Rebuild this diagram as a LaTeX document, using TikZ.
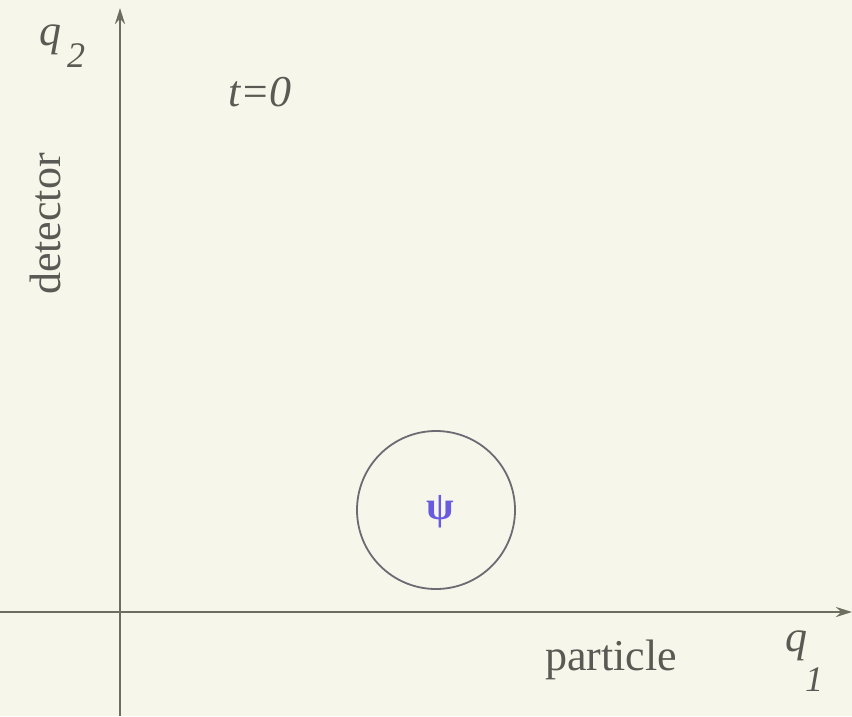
\documentclass[tikz,border=0pt]{standalone}
\usepackage{fontspec}
\setmainfont{Liberation Serif}
\usetikzlibrary{arrows.meta}
\definecolor{bg}{HTML}{F6F6EA}
\definecolor{axis}{HTML}{6E6E60}
\definecolor{psi}{HTML}{6A5ADF}
\definecolor{ring}{HTML}{6C6A72}
\definecolor{txt}{HTML}{5A5A55}
\begin{document}
\begin{tikzpicture}[x=1pt,y=-1pt,
  axisline/.style={draw=axis,line width=2.5pt,-{Stealth[length=16pt,width=10pt]}},
  lbl/.style={text=txt,inner sep=0pt,font=\fontsize{44}{48}\selectfont},
  ilbl/.style={lbl,font=\fontsize{44}{48}\selectfont\itshape}]
\fill[bg] (0,0) rectangle (852,716);
\useasboundingbox (0,0) rectangle (852,716);
\coordinate (ybot) at (120,716);
\coordinate (ytop) at (120,8);
\coordinate (xl) at (0,612);
\coordinate (xr) at (852,612);
\draw[axisline] (ybot) -- (ytop);
\draw[axisline] (xl) -- (xr);
\node[ilbl] (q2) at (50,40) {q};
\node[ilbl,font=\fontsize{36}{40}\selectfont\itshape] (q2s) at (76,56) {2};
\node[ilbl] (t0) at (260,92) {t=0};
\node[lbl,rotate=90] (det) at (45,224) {detector};
\node[lbl] (part) at (611,660) {particle};
\node[ilbl] (q1) at (796,646) {q};
\node[ilbl,font=\fontsize{36}{40}\selectfont\itshape] (q1s) at (814,680) {1};
\node[draw=ring,line width=1.8pt,circle,minimum size=158pt,inner sep=0pt] (wave) at (436,510) {};
\node[text=psi,inner sep=0pt,font=\fontsize{40}{44}\selectfont\bfseries] (psi) at (440,512) {ψ};
\end{tikzpicture}
\end{document}
